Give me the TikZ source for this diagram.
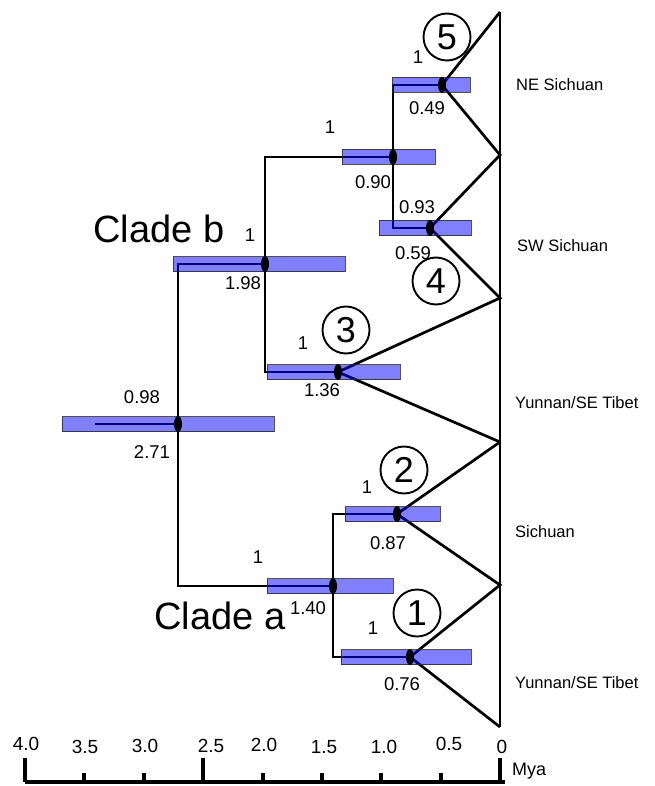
\documentclass[tikz,border=0pt]{standalone}
\usepackage{fontspec}
\setmainfont{Liberation Sans}
\usetikzlibrary{positioning, calc, shapes.geometric}

\begin{document}
\begin{tikzpicture}[
  x=1pt, y=-1pt,
  branch/.style   = {line width=2.7pt, color=black},
  hpd/.style      = {fill=blue, fill opacity=0.5, draw=black!85, draw opacity=0.8, line width=1pt},
  dot/.style      = {ellipse, fill=black, minimum width=8pt, minimum height=16pt, inner sep=0pt},
  prob/.style     = {font=\fontsize{18.5}{20}\selectfont, inner sep=0pt},
  age/.style      = {font=\fontsize{18.5}{20}\selectfont, inner sep=0pt},
  tiplab/.style   = {font=\fontsize{16.5}{19}\selectfont, anchor=west, inner sep=0pt},
  clade/.style    = {font=\fontsize{38}{40}\selectfont, anchor=base, inner sep=0pt},
  circ/.style     = {circle, draw, line width=1.9pt, minimum size=47pt, inner sep=0pt,
                     font=\fontsize{36}{36}\selectfont},
  scalelab/.style = {font=\fontsize{19}{20}\selectfont, anchor=base, inner sep=0pt},
]
\useasboundingbox (0,0) rectangle (654,786);

% =============================================================
% Divergence points (x = 500 - 118.75 * age) and tips
% =============================================================
\coordinate (root) at (95,424);
\coordinate (a271) at (178,424);
\coordinate (a198) at (265,264);
\coordinate (a136) at (338,372);
\coordinate (a090) at (393,157);
\coordinate (a059) at (430,228);
\coordinate (a049) at (442,85);
\coordinate (a140) at (333,586);
\coordinate (a087) at (397,514);
\coordinate (a076) at (410,657);

\coordinate (t0) at (500,12);
\coordinate (t1) at (500,155);
\coordinate (t2) at (500,298);
\coordinate (t3) at (500,442);
\coordinate (t4) at (500,585);
\coordinate (t5) at (500,727);

% =============================================================
% Tree
% =============================================================
\draw[branch] (root) -- (a271);
\draw[branch] (a198) -| (a271) |- (a140);
\draw[branch] (a090) -| (a198) |- (a136);
\draw[branch] (a049) -| (a090) |- (a059);
\draw[branch] (a087) -| (a140) |- (a076);

% collapsed clades
\draw[branch] (t0) -- (a049) -- (t1) -- (a059) -- (t2) -- (a136) -- (t3);
\draw[branch] (t3) -- (a087) -- (t4) -- (a076) -- (t5);
\draw[branch] (t0) -- (t5);

% =============================================================
% 95% HPD bars (left/right/centre y)
% =============================================================
\foreach \l/\r/\y in {62/274/424, 173/345/264, 267/400/372, 342/435/157,
                      379/471/228, 392/470/85, 267/393/586, 345/440/514, 341/471/657}
  \draw[hpd] (\l,\y-7.5) rectangle (\r,\y+7.5);

% node markers on top of the bars
\foreach \n in {271,198,136,090,059,049,140,087,076}
  \node[dot] (d\n) at (a\n) {};

% =============================================================
% Posterior probabilities and ages
% =============================================================
\node[prob] (p049) at (418,57)  {1};
\node[age]  (g049) at (427,108) {0.49};
\node[prob] (p090) at (330,127) {1};
\node[age]  (g090) at (373,182) {0.90};
\node[prob] (p059) at (417,207) {0.93};
\node[age]  (g059) at (413,253) {0.59};
\node[prob] (p198) at (250,235) {1};
\node[age]  (g198) at (243,283) {1.98};
\node[prob] (p136) at (303,343) {1};
\node[age]  (g136) at (322,390) {1.36};
\node[prob] (p271) at (142,397) {0.98};
\node[age]  (g271) at (152,452) {2.71};
\node[prob] (p140) at (258,557) {1};
\node[age]  (g140) at (308,608) {1.40};
\node[prob] (p087) at (367,487) {1};
\node[age]  (g087) at (388,543) {0.87};
\node[prob] (p076) at (373,628) {1};
\node[age]  (g076) at (402,684) {0.76};

% circled lineage numbers
\node[circ] (c5) at (447,37)  {5};
\node[circ] (c4) at (436,281) {4};
\node[circ] (c3) at (346,330) {3};
\node[circ] (c2) at (404,470) {2};
\node[circ] (c1) at (417,613) {1};

% clade names
\node[clade] (cladeb) at (159,243) {Clade b};
\node[clade] (cladea) at (220,629) {Clade a};

% =============================================================
% Tip labels
% =============================================================
\node[tiplab] (ne)  at (516,85)  {NE Sichuan};
\node[tiplab] (sw)  at (517,246) {SW Sichuan};
\node[tiplab] (yt1) at (515,403) {Yunnan/SE Tibet};
\node[tiplab] (sc)  at (515,532) {Sichuan};
\node[tiplab] (yt2) at (515,683) {Yunnan/SE Tibet};

% =============================================================
% Time scale
% =============================================================
\draw[line width=4pt] (25,782) -- (505,782);
\foreach \t in {0,4,2.5}
  \draw[line width=4pt] ({500-118.75*\t},782) -- ({500-118.75*\t},758);
\foreach \t in {0.5,1,1.5,2,3,3.5}
  \draw[line width=4pt] ({500-118.75*\t},782) -- ({500-118.75*\t},773);
\foreach \x/\b/\lab [count=\i] in {26/750/4.0, 85/753/3.5, 145/752/3.0, 211/752/2.5, 264/751/2.0,
                                  324/753/1.5, 384/753/1.0, 449/750/0.5, 502/753/0}
  \node[scalelab] (s\i) at (\x,\b) {\lab};
\node[tiplab, font=\fontsize{18}{20}\selectfont] (mya) at (512,771) {Mya};

\end{tikzpicture}
\end{document}
